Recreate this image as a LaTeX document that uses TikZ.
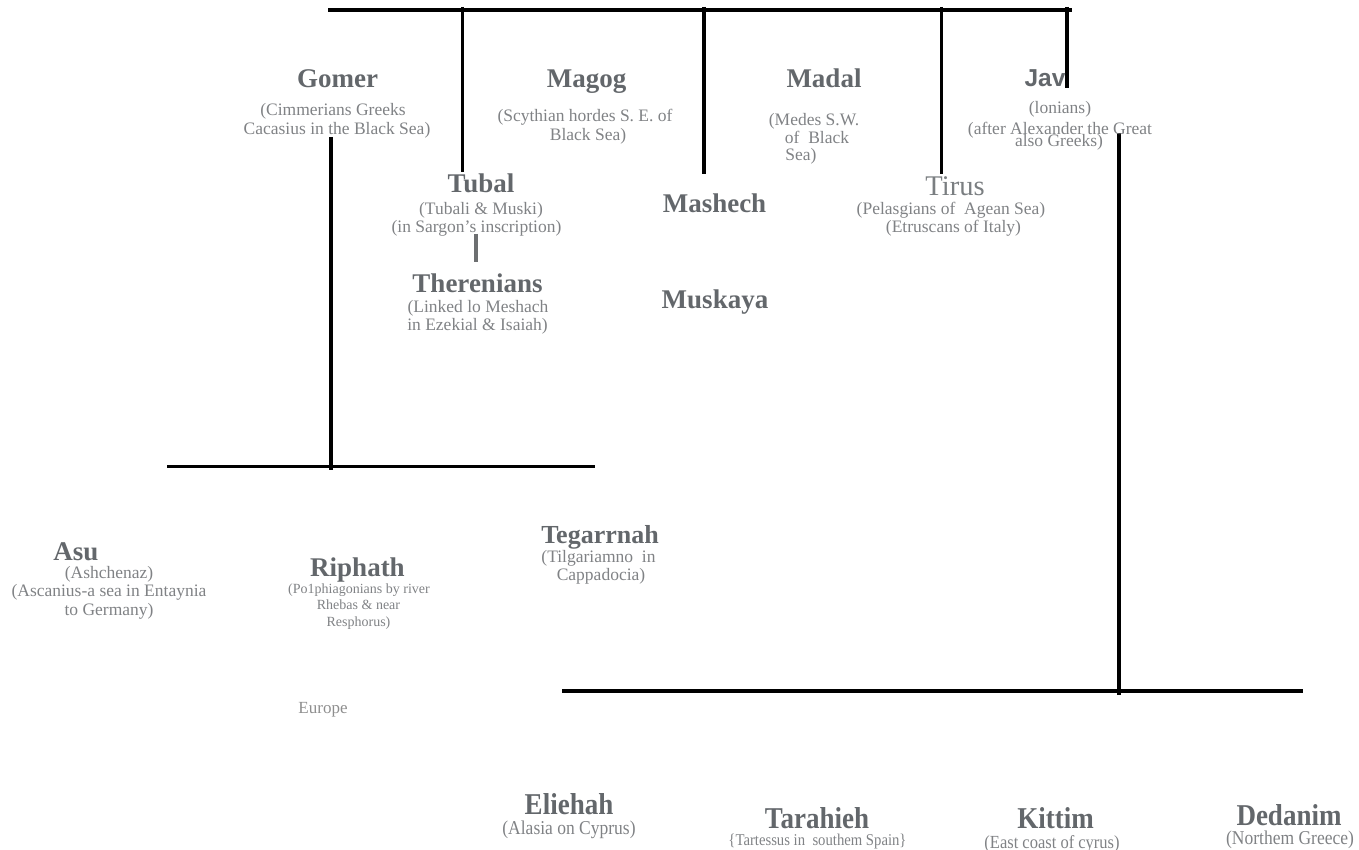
\documentclass[tikz,border=0pt]{standalone}
\usepackage{graphicx}
\usepackage{fontspec}
\setmainfont{Liberation Serif}
\newfontfamily\javfont{Liberation Sans}
\definecolor{tgray}{HTML}{63676B}
\definecolor{dgray}{HTML}{808285}
\definecolor{lgray}{HTML}{8E8E8E}
\definecolor{bargray}{HTML}{6D6F71}
\newcommand\tallbox[1]{\scalebox{1}[1.12]{#1}}
\begin{document}
\begin{tikzpicture}[x=1pt,y=-1pt,
  ttl/.style={anchor=base, inner sep=0, text=tgray, font=\fontsize{27}{30}\selectfont\bfseries},
  dsc/.style={anchor=base, inner sep=0, text=dgray, font=\fontsize{17.5}{20}\selectfont},
  sdsc/.style={anchor=base, inner sep=0, text=dgray, font=\fontsize{14}{16}\selectfont},
  bar/.style={line width=3.5pt, black}]
\useasboundingbox (0,0) rectangle (1359,850);

% ---- connector coordinates ----
\coordinate (tl) at (328,10);
\coordinate (tr) at (1072,10);
\coordinate (v1t) at (462.5,7);   \coordinate (v1b) at (462.5,172);
\coordinate (v2t) at (704,7);     \coordinate (v2b) at (704,174);
\coordinate (v3t) at (941.5,7);   \coordinate (v3b) at (941.5,174);
\coordinate (v4t) at (1067,7);    \coordinate (v4b) at (1067,88);
\coordinate (gvt) at (331,137);   \coordinate (gvb) at (331,470);
\coordinate (ghl) at (167,466.5); \coordinate (ghr) at (595,466.5);
\coordinate (rvt) at (1119,133);  \coordinate (rvb) at (1119,695);
\coordinate (rhl) at (562,691);   \coordinate (rhr) at (1303,691);
\coordinate (tbt) at (476,234);   \coordinate (tbb) at (476,262);

\draw[bar] (tl) -- (tr);
\draw[bar] (v1t) -- (v1b);
\draw[bar] (v2t) -- (v2b);
\draw[bar] (v3t) -- (v3b);
\draw[bar, line width=4pt] (v4t) -- (v4b);
\draw[bar] (gvt) -- (gvb);
\draw[bar] (ghl) -- (ghr);
\draw[bar] (rvt) -- (rvb);
\draw[bar] (rhl) -- (rhr);
\draw[line width=4.5pt, bargray] (tbt) -- (tbb);

% ---- first row ----
\node[ttl] (gomer) at (337.5,88) {Gomer};
\node[dsc] (gomer1) at (333,116) {(Cimmerians Greeks};
\node[dsc] (gomer2) at (337,135) {Cacasius in the Black Sea)};

\node[ttl] (magog) at (586.5,88) {Magog};
\node[dsc] (magog1) at (585,122) {(Scythian hordes S. E. of};
\node[dsc] (magog2) at (588,141) {Black Sea)};

\node[ttl] (madal) at (824,88) {Madal};
\node[dsc] (madal1) at (814,126) {(Medes S.W.};
\node[dsc] (madal2) at (817,143.5) {of\ \ Black};
\node[dsc] (madal3) at (801,161) {Sea)};

\node[ttl, font=\javfont\fontsize{24.5}{27}\selectfont\bfseries] (jav) at (1045,87) {Jav};
\node[dsc] (jav1) at (1060,114) {(lonians)};
\node[dsc] (jav2) at (1060,134.5) {(after Alexander the Great};
\node[dsc] (jav3) at (1059,146.5) {also Greeks)};

% ---- second row ----
\node[ttl] (tubal) at (481,193) {Tubal};
\node[dsc] (tubal1) at (481,215) {(Tubali \& Muski)};
\node[dsc] (tubal2) at (476.5,233) {(in Sargon's inscription)};

\node[ttl] (mashech) at (714.5,213) {Mashech};

\node[ttl, font=\fontsize{28.5}{31}\selectfont, text=tgray!85] (tirus) at (955,196) {Tirus};
\node[dsc] (tirus1) at (951,215) {(Pelasgians of\ \ Agean Sea)};
\node[dsc] (tirus2) at (953.5,233) {(Etruscans of Italy)};

\node[ttl] (theren) at (477.5,292) {Therenians};
\node[dsc] (theren1) at (478,312) {(Linked lo Meshach};
\node[dsc] (theren2) at (477.5,330) {in Ezekial \& Isaiah)};

\node[ttl] (muskaya) at (715,308) {Muskaya};

% ---- third row ----
\node[ttl] (asu) at (76,560) {Asu};
\node[dsc] (asu1) at (109,578) {(Ashchenaz)};
\node[dsc] (asu2) at (109,596.5) {(Ascanius-a sea in Entaynia};
\node[dsc] (asu3) at (109,615) {to Germany)};

\node[ttl] (riphath) at (357.5,576) {Riphath};
\node[sdsc] (riphath1) at (359,593) {(Po1phiagonians by river};
\node[sdsc] (riphath2) at (358.5,609.5) {Rhebas \& near};
\node[sdsc] (riphath3) at (358.5,626) {Resphorus)};

\node[dsc, text=lgray, font=\fontsize{17}{20}\selectfont] (europe) at (323,713) {Europe};

\node[ttl, font=\fontsize{26}{29}\selectfont\bfseries] (tegar) at (600,543) {Tegarrnah};
\node[dsc] (tegar1) at (598.5,562) {(Tilgariamno\ \ in};
\node[dsc] (tegar2) at (601,580) {Cappadocia)};

% ---- bottom row ----
\node[ttl] (eliehah) at (569,814) {\tallbox{Eliehah}};
\node[dsc] (eliehah1) at (569,834) {\tallbox{(Alasia on Cyprus)}};

\node[ttl] (tarahieh) at (817,828) {\tallbox{Tarahieh}};
\node[dsc, font=\fontsize{14.7}{17}\selectfont] (tarahieh1) at (817.5,845) {\tallbox{\{Tartessus in\ \ southem Spain\}}};

\node[ttl] (kittim) at (1055.5,828) {\tallbox{Kittim}};
\node[dsc, font=\fontsize{16.5}{19}\selectfont] (kittim1) at (1052,848) {\tallbox{(East coast of cyrus)}};

\node[ttl] (dedanim) at (1289,825) {\tallbox{Dedanim}};
\node[dsc] (dedanim1) at (1290,844) {\tallbox{(Northem Greece)}};
\end{tikzpicture}
\end{document}
